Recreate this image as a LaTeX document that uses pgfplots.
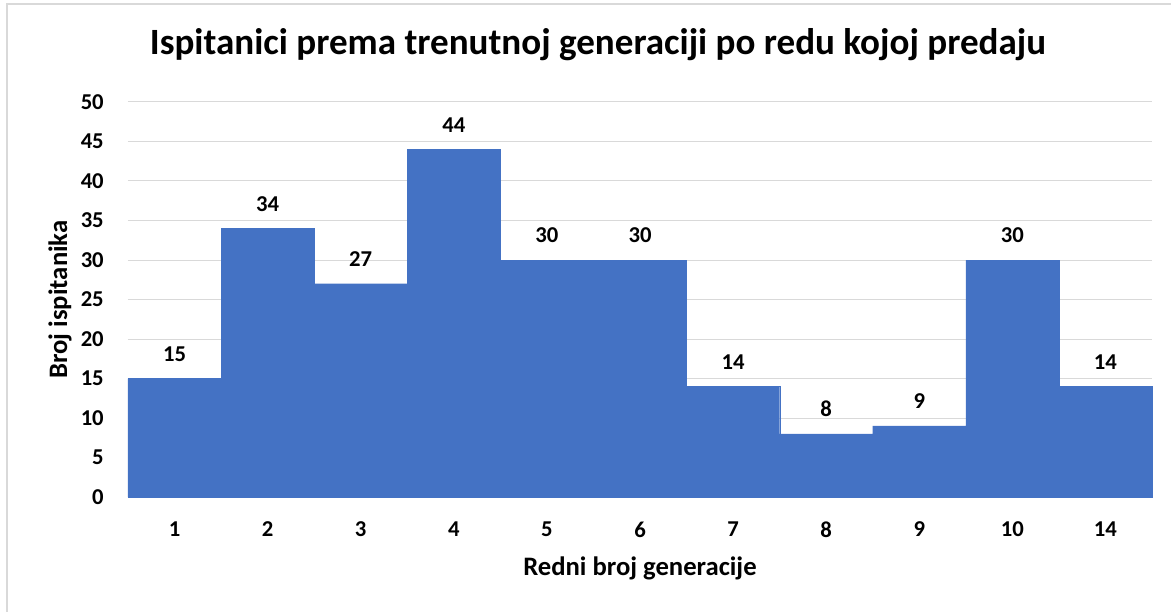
\documentclass[border=0pt]{standalone}
\usepackage{pgfplots}
\pgfplotsset{compat=1.18}
\usepackage{fontspec}
\setmainfont{Carlito}
\definecolor{barblue}{HTML}{4472C4}
\definecolor{gridgray}{HTML}{D9D9D9}
\begin{document}
\begin{tikzpicture}[x=1pt,y=1pt]
\useasboundingbox (-96,-85.5) rectangle (782.25,372.75);
\draw[gridgray, line width=1.5pt] (-90.75,-90) -- (-90.75,369.75) -- (790,369.75);
\begin{axis}[
  at={(0,0)}, anchor=south west,
  scale only axis, width=768pt, height=296.25pt,
  xmin=-0.5, xmax=10.5, ymin=0, ymax=50,
  ytick={0,5,...,50},
  xtick={0,...,10},
  xticklabels={1,2,3,4,5,6,7,8,9,10,14},
  axis line style={draw=none},
  axis x line*=bottom,
  x axis line style={draw=gridgray, line width=0.75pt},
  major tick length=0pt,
  ymajorgrids, grid style={gridgray, line width=0.75pt},
  ybar, bar width=1, bar shift=0pt,
  tick label style={font=\fontsize{17}{18}\selectfont\bfseries},
  /pgf/number format/assume math mode=true,
  yticklabel style={inner sep=0pt, anchor=east, xshift=-18pt},
  xticklabel style={inner sep=0pt, anchor=north, yshift=-18.5pt},
  xlabel={Redni broj generacije},
  ylabel={Broj ispitanika},
  xlabel style={font=\fontsize{20}{22}\selectfont\bfseries, at={(axis description cs:0.5,0)}, anchor=base, yshift=-58.5pt, inner sep=0pt},
  ylabel style={font=\fontsize{20}{22}\selectfont\bfseries, at={(axis description cs:-0.0664,0.5)}, anchor=center, inner sep=0pt},
  title={Ispitanici prema trenutnoj generaciji po redu kojoj predaju},
  title style={font=\fontsize{27.8}{32}\selectfont\bfseries, at={(axis description cs:0.459,1)}, anchor=base, yshift=29.5pt, inner sep=0pt},
  nodes near coords,
  every node near coord/.append style={font=\fontsize{17}{18}\selectfont\bfseries, anchor=south, inner sep=0pt, yshift=12.75pt, text=black},
  clip=false,
]
\addplot[fill=barblue, draw=barblue, line width=0.2pt] coordinates {
(0,15) (1,34) (2,27) (3,44) (4,30) (5,30) (6,14) (7,8) (8,9) (9,30) (10,14)
};
\end{axis}
\end{tikzpicture}
\end{document}
